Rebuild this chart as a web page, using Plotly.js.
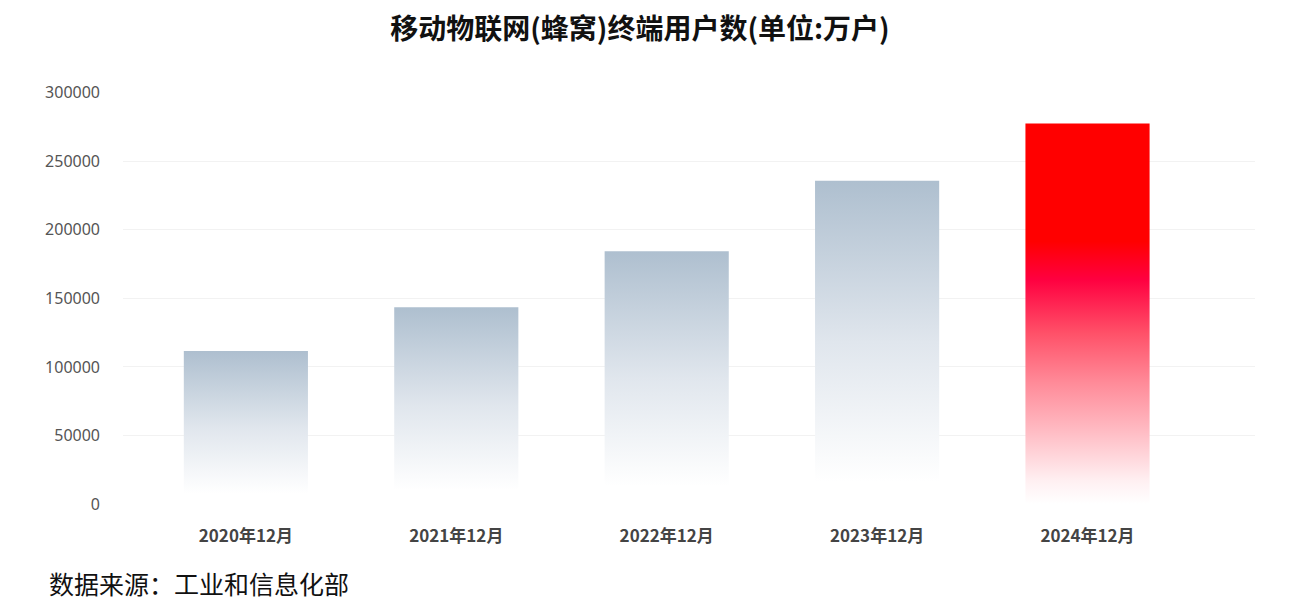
<!DOCTYPE html>
<html>
<head>
<meta charset="utf-8">
<script src="https://cdn.plot.ly/plotly-3.0.1.min.js"></script>
<style>
  html, body { margin: 0; padding: 0; background: #fff; }
  #chart { width: 1303px; height: 611px; }
</style>
</head>
<body>
<div id="chart"></div>
<script>
// 移动物联网(蜂窝)终端用户数, 单位: 万户
const categories = ['2020年12月', '2021年12月', '2022年12月', '2023年12月', '2024年12月'];
const users = [111600, 143500, 184500, 235800, 277700];
const yTicks = [0, 50000, 100000, 150000, 200000, 250000, 300000];
const highlightIndex = 4; // the last year is drawn red

const CJK = '"Noto Sans CJK SC", "Noto Sans", sans-serif';

const trace = {
  type: 'bar',
  x: categories,
  y: users,
  width: 0.59,
  marker: {
    color: users.map((_, i) => i === highlightIndex ? '#ff0000' : '#b0c0d0'),
    line: { width: 0 }
  },
  hoverinfo: 'none'
};

const layout = {
  width: 1303,
  height: 611,
  margin: { l: 123, r: 48, t: 92, b: 107 },
  paper_bgcolor: '#fff',
  plot_bgcolor: '#fff',
  showlegend: false,
  title: {
    text: '<b>移动物联网(蜂窝)终端用户数(单位:万户)</b>',
    font: { family: CJK, size: 28, color: '#111' },
    x: 640 / 1303, xanchor: 'center',
    xref: 'container', yref: 'container',
    y: 1 - 29 / 611, yanchor: 'middle'
  },
  xaxis: {
    type: 'category',
    range: [-0.584, 4.796],
    showgrid: false,
    showline: false,
    ticks: '',
    ticklabelstandoff: 20,
    tickfont: { family: CJK, size: 17, color: '#444', weight: 'bold' },
    fixedrange: true
  },
  yaxis: {
    range: [0, 300600],
    tickvals: yTicks,
    ticktext: yTicks.map(String),
    showgrid: true,
    gridcolor: '#f2f2f2',
    gridwidth: 1,
    zeroline: false,
    showline: false,
    ticks: '',
    ticklabelstandoff: 22,
    tickfont: { family: '"Noto Sans", sans-serif', size: 16, color: '#555' },
    fixedrange: true
  },
  annotations: [{
    text: '数据来源：工业和信息化部',
    xref: 'paper', yref: 'paper',
    x: (47 - 123) / 1132, xanchor: 'left',
    y: -(583 - 504) / 412, yanchor: 'middle',
    showarrow: false,
    font: { family: CJK, size: 25, color: '#111' }
  }]
};

// vertical fades for the bars (Plotly bars have no gradient option)
const grayStops = [[0, '#aebfcf'], [0.5, '#e0e6ed'], [0.93, '#ffffff'], [1, '#ffffff']];
const redStops = [[0, '#ff0000'], [0.31, '#ff0000'], [0.41, '#ff0040'], [0.55, '#ff5068'],
                  [0.68, '#ff8a98'], [0.81, '#ffbcc4'], [0.94, '#fff0f2'], [1, '#ffffff']];

function addGradient(defs, id, stops) {
  const ns = 'http://www.w3.org/2000/svg';
  const g = document.createElementNS(ns, 'linearGradient');
  g.setAttribute('id', id);
  g.setAttribute('x1', '0'); g.setAttribute('y1', '0');
  g.setAttribute('x2', '0'); g.setAttribute('y2', '1');
  stops.forEach(([off, col]) => {
    const s = document.createElementNS(ns, 'stop');
    s.setAttribute('offset', off);
    s.setAttribute('stop-color', col);
    g.appendChild(s);
  });
  defs.appendChild(g);
}

function paintBars(gd) {
  const svg = gd.querySelector('svg.main-svg');
  let defs = svg.querySelector('defs');
  if (!defs) {
    defs = document.createElementNS('http://www.w3.org/2000/svg', 'defs');
    svg.insertBefore(defs, svg.firstChild);
  }
  if (!defs.querySelector('#barGray')) {
    addGradient(defs, 'barGray', grayStops);
    addGradient(defs, 'barRed', redStops);
  }
  gd.querySelectorAll('.barlayer .point path').forEach((p, i) => {
    const id = i === highlightIndex ? 'barRed' : 'barGray';
    p.style.fill = 'url(#' + id + ')';
  });
}

const gd = document.getElementById('chart');
Plotly.newPlot(gd, [trace], layout, { displayModeBar: false, staticPlot: true })
  .then(paintBars);
</script>
</body>
</html>
